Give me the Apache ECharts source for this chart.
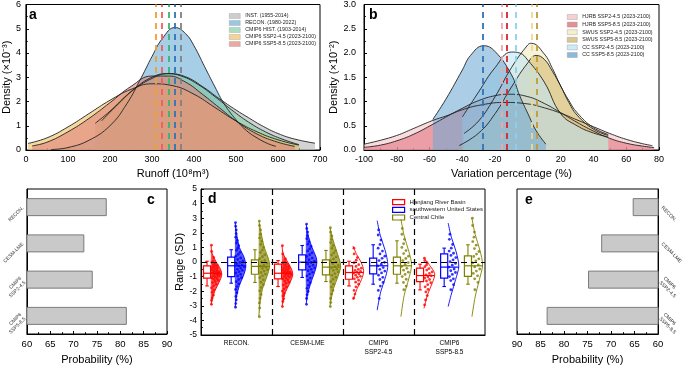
<!DOCTYPE html>
<html>
<head>
<meta charset="utf-8">
<script src="https://cdn.jsdelivr.net/npm/echarts@6/dist/echarts.min.js"></script>
<style>html,body{margin:0;padding:0;background:#fff}#main{width:685px;height:366px}</style>
</head>
<body>
<div id="main"></div>
<script>
var FONT = '"Liberation Sans", Arial, sans-serif';

// ---- panel a: runoff density (x10^-3) ----
var runoffINST = [[165,1.1],[200,1.6],[250,2.4],[300,2.95],[340,3.15],[380,3.02],[420,2.62],[460,2.12],[500,1.65],[530,1.33],[560,1.02],[600,0.68],[640,0.45],[688,0.28]];
var runoffRECON = [[60,0.02],[100,0.1],[150,0.4],[200,1.0],[240,1.9],[275,3.0],[300,3.85],[325,4.6],[355,5.05],[380,4.8],[400,4.3],[425,3.45],[450,2.6],[472,1.9],[500,1.25],[525,0.8],[550,0.5],[575,0.27],[595,0.15]];
var runoffHIST = [[180,1.2],[220,1.9],[260,2.55],[300,3.0],[335,3.15],[370,3.05],[410,2.7],[450,2.2],[490,1.65],[530,1.15],[570,0.75],[610,0.45],[650,0.22]];
var runoffSSP245 = [[5,0.27],[50,0.5],[100,0.95],[150,1.5],[200,2.05],[250,2.5],[300,2.73],[350,2.65],[400,2.3],[450,1.75],[500,1.2],[550,0.75],[600,0.42],[650,0.2]];
var runoffSSP585 = [[15,0.17],[50,0.32],[100,0.75],[150,1.3],[200,1.95],[250,2.62],[300,3.05],[340,3.05],[380,2.8],[420,2.3],[460,1.75],[500,1.2],[550,0.66],[600,0.32],[640,0.15]];
var aNames = ['INST. (1955-2014)', 'RECON. (1980-2022)', 'CMIP6 HIST. (1903-2014)', 'CMIP6 SSP2-4.5 (2023-2100)', 'CMIP6 SSP5-8.5 (2023-2100)'];
var aMeans = [369, 355, 340, 310, 323];

// ---- panel b: variation percentage density (x10^-2) ----
var varHJRB245 = [[-100,0.12],[-90,0.2],[-80,0.3],[-70,0.44],[-58,0.61],[-50,0.7],[-40,0.83],[-30,0.92],[-15,0.98],[0,0.95],[10,0.87],[20,0.76],[30,0.62],[40,0.48],[50,0.34],[60,0.22],[70,0.13],[76,0.09]];
var varHJRB585 = [[-100,0.055],[-90,0.1],[-80,0.19],[-70,0.32],[-58,0.53],[-50,0.68],[-40,0.86],[-30,1.02],[-20,1.12],[-12,1.15],[0,1.1],[10,0.96],[20,0.77],[30,0.57],[40,0.39],[50,0.24],[60,0.14],[70,0.08],[77,0.05]];
var varSWUS245 = [[-39,0.34],[-30,0.6],[-20,1.1],[-10,1.7],[0,2.17],[2,2.2],[10,1.98],[15,1.68],[20,1.32],[25,1.02],[30,0.77],[40,0.46],[49,0.32]];
var varSWUS585 = [[-42,0.09],[-30,0.35],[-20,0.75],[-10,1.3],[0,1.8],[5,1.95],[10,1.87],[15,1.62],[20,1.32],[25,0.98],[30,0.72],[40,0.43],[49,0.3]];
var varCC245 = [[-40,0.68],[-30,1.2],[-20,1.7],[-10,2.02],[-5,2.0],[0,1.85],[10,1.4],[20,0.75],[30,0.5],[40,0.35],[49,0.27]];
var varCC585 = [[-58,0.63],[-50,1.05],[-40,1.65],[-35,1.95],[-27,2.15],[-20,2.03],[-10,1.55],[-5,1.12],[0,0.75],[5,0.4],[11,0.12]];
var bNames = ['HJRB SSP2-4.5 (2023-2100)', 'HJRB SSP5-8.5 (2023-2100)', 'SWUS SSP2-4.5 (2023-2100)', 'SWUS SSP5-8.5 (2023-2100)', 'CC SSP2-4.5 (2023-2100)', 'CC SSP5-8.5 (2023-2100)'];
var bMeans = [-16.2, -12.6, 2.3, 5.7, -7.3, -27.6];

// ---- panels c / e: probability ----
var probCats = ['RECON.', 'CESM-LME', 'CMIP6\nSSP2-4.5', 'CMIP6\nSSP5-8.5'];
var probC = [77.1, 72.3, 74.1, 81.4];
var probE = [65.4, 72.1, 74.9, 83.7];

// ---- panel d: range (SD) ----
var dCats = ['RECON.', 'CESM-LME', 'CMIP6\nSSP2-4.5', 'CMIP6\nSSP5-8.5'];
var dRegions = ['Hanjiang River Basin', 'southwestern United States', 'Central Chile'];
// [lower whisker, Q1, median, Q3, upper whisker]
var boxHJRB = [[-1.64,-1.11,-0.77,-0.26,0.05],[-1.68,-1.16,-0.77,-0.15,0.1],[-1.64,-1.18,-0.72,-0.26,0.05],[-1.91,-1.34,-0.93,-0.42,-0.15]];
var boxSWUS = [[-1.45,-1.0,-0.26,0.33,0.84],[-1.06,-0.54,-0.01,0.49,1.13],[-1.52,-0.81,-0.26,0.26,1.18],[-1.68,-1.11,-0.35,0.56,0.95]];
var boxCC = [[-1.4,-0.84,-0.3,0.15,0.84],[-1.34,-0.88,-0.35,0.15,0.79],[-1.45,-0.84,-0.26,0.33,1.45],[-1.52,-0.99,-0.26,0.42,1.18]];
var ptsHJRB = [
  [1.15,0.72,0.31,0.08,-0.02,-0.11,-0.18,-0.24,-0.29,-0.36,-0.41,-0.47,-0.52,-0.58,-0.61,-0.66,-0.7,-0.74,-0.77,-0.81,-0.84,-0.88,-0.93,-0.97,-1.02,-1.08,-1.13,-1.19,-1.26,-1.33,-1.41,-1.52,-1.63,-1.77,-1.92,-2.08,-2.27,-2.46,-2.63,-2.9],
  [1.12,0.55,0.21,0.03,-0.07,-0.14,-0.2,-0.27,-0.33,-0.38,-0.44,-0.5,-0.55,-0.6,-0.64,-0.69,-0.73,-0.77,-0.8,-0.85,-0.89,-0.94,-0.99,-1.04,-1.1,-1.16,-1.22,-1.3,-1.38,-1.47,-1.58,-1.7,-1.84,-1.99,-2.15,-2.33,-2.52,-2.7,-3.05],
  [0.95,0.55,0.3,0.12,-0.05,-0.18,-0.3,-0.42,-0.5,-0.58,-0.65,-0.7,-0.75,-0.82,-0.9,-0.98,-1.05,-1.15,-1.25,-1.38,-1.52,-1.7,-1.95,-2.2,-2.48],
  [0.26,0.1,-0.05,-0.2,-0.32,-0.45,-0.55,-0.68,-0.78,-0.88,-0.95,-1.02,-1.1,-1.2,-1.3,-1.42,-1.55,-1.7,-1.88,-2.05,-2.3,-2.6,-2.94]
];
var ptsSWUS = [
  [2.7,2.45,2.2,1.95,1.7,1.48,1.3,1.12,0.95,0.8,0.66,0.52,0.4,0.28,0.17,0.07,-0.03,-0.12,-0.2,-0.27,-0.35,-0.42,-0.5,-0.58,-0.66,-0.75,-0.85,-0.96,-1.08,-1.2,-1.34,-1.5,-1.68,-1.88,-2.1,-2.35,-2.6,-2.85,-3.1],
  [2.6,2.3,2.05,1.8,1.6,1.4,1.22,1.06,0.9,0.76,0.63,0.5,0.38,0.27,0.16,0.06,-0.04,-0.13,-0.22,-0.31,-0.4,-0.5,-0.6,-0.71,-0.83,-0.96,-1.1,-1.25,-1.42,-1.6,-1.8,-2.02,-2.25,-2.5,-2.9],
  [2.2,1.85,1.5,1.2,0.95,0.75,0.55,0.4,0.25,0.1,-0.02,-0.15,-0.26,-0.38,-0.5,-0.62,-0.75,-0.9,-1.05,-1.2,-1.4,-1.65,-1.95,-2.5],
  [1.9,1.55,1.2,0.95,0.75,0.6,0.45,0.3,0.15,0.02,-0.1,-0.22,-0.35,-0.48,-0.6,-0.72,-0.85,-1.0,-1.15,-1.27,-1.55,-1.9]
];
var ptsCC = [
  [2.8,2.5,2.2,1.9,1.65,1.42,1.2,1.0,0.82,0.65,0.5,0.36,0.23,0.11,0.0,-0.1,-0.2,-0.28,-0.36,-0.44,-0.53,-0.62,-0.72,-0.83,-0.95,-1.08,-1.22,-1.38,-1.55,-1.75,-1.98,-2.22,-2.5,-2.8,-3.15,-3.75],
  [2.35,2.05,1.78,1.55,1.33,1.13,0.95,0.78,0.62,0.48,0.35,0.22,0.1,-0.01,-0.12,-0.22,-0.31,-0.4,-0.49,-0.58,-0.68,-0.79,-0.91,-1.04,-1.18,-1.34,-1.52,-1.72,-1.95,-2.2,-2.5,-2.78,-3.05],
  [2.3,1.9,1.55,1.25,1.0,0.78,0.58,0.4,0.24,0.1,-0.04,-0.17,-0.3,-0.43,-0.56,-0.7,-0.85,-1.0,-1.18,-1.4,-1.65,-1.9],
  [3.0,2.5,2.05,1.7,1.4,1.15,0.92,0.72,0.54,0.38,0.22,0.08,-0.06,-0.2,-0.34,-0.48,-0.62,-0.78,-0.95,-1.15,-1.4,-1.9]
];
// half-violin profiles: [y, relative density]
var violinHJRB = [
  [[1.15,0],[0.6,0.1],[0.05,0.45],[-0.5,0.9],[-0.9,1],[-1.4,0.75],[-2.0,0.35],[-2.6,0.1],[-2.95,0]],
  [[1.15,0],[0.6,0.1],[0.1,0.45],[-0.5,0.9],[-0.9,1],[-1.5,0.7],[-2.1,0.3],[-2.7,0.1],[-3.05,0]],
  [[1.1,0],[0.5,0.35],[0,0.75],[-0.6,1],[-1.2,0.8],[-1.8,0.4],[-2.6,0]],
  [[0.26,0],[-0.2,0.5],[-0.8,1],[-1.4,0.8],[-2.2,0.35],[-3.17,0]]
];
var violinSWUS = [
  [[2.7,0],[2.0,0.12],[1.0,0.4],[0.3,0.85],[-0.3,1],[-0.9,0.8],[-1.6,0.4],[-2.4,0.12],[-3.1,0]],
  [[2.6,0],[1.8,0.2],[1.0,0.55],[0.3,0.95],[-0.1,1],[-0.7,0.8],[-1.5,0.4],[-2.3,0.12],[-2.9,0]],
  [[2.83,0],[1.8,0.3],[0.8,0.75],[-0.2,1],[-1.0,0.8],[-2.0,0.35],[-3.3,0]],
  [[2.67,0],[1.7,0.3],[0.7,0.75],[-0.3,1],[-1.2,0.7],[-2.2,0.3],[-3.05,0]]
];
var violinCC = [
  [[2.8,0],[2.0,0.2],[1.0,0.5],[0.2,0.9],[-0.3,1],[-1.0,0.75],[-1.8,0.35],[-2.8,0.1],[-3.75,0]],
  [[2.35,0],[1.6,0.25],[0.8,0.6],[0,0.95],[-0.4,1],[-1.0,0.75],[-1.8,0.35],[-2.6,0.1],[-3.05,0]],
  [[2.94,0],[1.8,0.3],[0.7,0.75],[-0.2,1],[-1.1,0.75],[-2.3,0.3],[-3.74,0]],
  [[3.0,0],[1.9,0.3],[0.8,0.75],[-0.2,1],[-1.2,0.7],[-2.4,0.3],[-3.74,0]]
];

var aFill = ['#b8b8b8', '#6fb0d8', '#86d0aa', '#eec266', '#e2857c'];
var aDash = ['#808080', '#2f74b5', '#3cb371', '#f0a030', '#f25c5c'];
var bFill = ['#f5c4c6', '#e0707c', '#f2ebbd', '#d2b86e', '#bfe5f5', '#6ea9d2'];
var bDash = ['#f4a6a8', '#d8252f', '#e6dc96', '#c49a35', '#86d3f0', '#2f74b5'];
var dColors = ['#ff0000', '#0000ff', '#808000'];
var dOffsets = [0.085, 0.425, 0.76];
var BOX_HALF = 0.05, VIOLIN_W = 0.15;

function curveSeries(name, data, fill, xi, op) {
  return {
    name: name, type: 'line', xAxisIndex: xi, yAxisIndex: xi, data: data,
    smooth: 0.45, showSymbol: false, symbol: 'none', silent: true,
    lineStyle: { color: '#222', width: 0.9 },
    itemStyle: { color: fill },
    areaStyle: { color: fill, opacity: op }
  };
}

function meanSeries(xi, means, colors) {
  return {
    type: 'line', xAxisIndex: xi, yAxisIndex: xi, data: [], silent: true, z: 5,
    markLine: {
      symbol: ['none', 'none'], silent: true, label: { show: false }, animation: false,
      data: means.map(function (m, i) {
        return { xAxis: m, lineStyle: { color: colors[i], type: [6, 5], width: 1.8 } };
      })
    }
  };
}

function violinWidth(prof, y) {
  for (var k = 0; k < prof.length - 1; k++) {
    var a = prof[k], b = prof[k + 1];
    if (y <= a[0] && y >= b[0]) {
      return a[1] + (b[1] - a[1]) * (a[0] - y) / (a[0] - b[0]);
    }
  }
  return 0;
}

var dBoxes = [boxHJRB, boxSWUS, boxCC];
var dPts = [ptsHJRB, ptsSWUS, ptsCC];
var dViolins = [violinHJRB, violinSWUS, violinCC];

function boxRender(r) {
  return function (params, api) {
    var i = params.dataIndex;
    var b = dBoxes[r][i], prof = dViolins[r][i], col = dColors[r];
    var cx = i + dOffsets[r], base = cx + BOX_HALF + 0.006;
    var children = [];
    var vpts = prof.map(function (p) { return api.coord([base + p[1] * VIOLIN_W, p[0]]); });
    if (i < 2) {
      children.push({ type: 'polygon', shape: { points: vpts, smooth: 0.3 }, style: { fill: col, opacity: 0.65 } });
    }
    children.push({ type: 'polyline', shape: { points: vpts, smooth: 0.3 }, style: { stroke: col, fill: 'none', lineWidth: 0.9 } });
    var tl = api.coord([cx - BOX_HALF, b[3]]), br = api.coord([cx + BOX_HALF, b[1]]);
    children.push({ type: 'rect', shape: { x: tl[0], y: tl[1], width: br[0] - tl[0], height: br[1] - tl[1] }, style: { fill: 'none', stroke: col, lineWidth: 1.2 } });
    var top = api.coord([cx, b[4]]), bot = api.coord([cx, b[0]]);
    var c = api.coord([cx, 0])[0];
    var capL = api.coord([cx - BOX_HALF * 0.5, 0])[0], capR = api.coord([cx + BOX_HALF * 0.5, 0])[0];
    children.push({ type: 'line', shape: { x1: c, y1: tl[1], x2: c, y2: top[1] }, style: { stroke: col, lineWidth: 1.1 } });
    children.push({ type: 'line', shape: { x1: c, y1: br[1], x2: c, y2: bot[1] }, style: { stroke: col, lineWidth: 1.1 } });
    children.push({ type: 'line', shape: { x1: capL, y1: top[1], x2: capR, y2: top[1] }, style: { stroke: col, lineWidth: 1.1 } });
    children.push({ type: 'line', shape: { x1: capL, y1: bot[1], x2: capR, y2: bot[1] }, style: { stroke: col, lineWidth: 1.1 } });
    var m1 = api.coord([cx - BOX_HALF, b[2]]), m2 = api.coord([base + VIOLIN_W, b[2]]);
    children.push({ type: 'line', shape: { x1: m1[0], y1: m1[1], x2: m2[0], y2: m2[1] }, style: { stroke: col, lineWidth: 1.2 } });
    return { type: 'group', children: children };
  };
}

function scatterData(r) {
  var out = [];
  for (var i = 0; i < 4; i++) {
    var base = i + dOffsets[r] + BOX_HALF + 0.012;
    var prof = dViolins[r][i];
    dPts[r][i].forEach(function (y, k) {
      var w = violinWidth(prof, y) * VIOLIN_W;
      var f = ((k + 1) * 0.618034) % 1;
      out.push([base + f * w * 0.85, y]);
    });
  }
  return out;
}

function axisBase(gi) {
  return {
    gridIndex: gi,
    axisLine: { show: true, onZero: false, lineStyle: { color: '#000', width: 1 } },
    axisTick: { show: true, inside: true, length: 3, lineStyle: { color: '#000' } },
    splitLine: { show: false },
    nameTextStyle: { fontSize: 11, color: '#000', fontFamily: FONT },
    nameLocation: 'middle'
  };
}
function valAxis(gi, min, max, interval, labelSize, margin) {
  var a = axisBase(gi);
  a.type = 'value'; a.min = min; a.max = max; a.interval = interval;
  a.minorTick = { show: true, splitNumber: 2, length: 1.8, lineStyle: { color: '#000' } };
  a.axisLabel = { color: '#000', fontSize: labelSize, fontFamily: FONT, margin: margin };
  return a;
}

var xa = valAxis(0, 0, 700, 100, 9, 5);
xa.name = 'Runoff (10⁸m³)'; xa.nameGap = 18;
var ya = valAxis(0, 0, 6, 1, 9, 5);
ya.name = 'Density (×10⁻³)'; ya.nameGap = 12;

var xb = valAxis(1, -100, 80, 20, 9, 5);
xb.name = 'Variation percentage (%)'; xb.nameGap = 18;
var yb = valAxis(1, 0, 3, 0.5, 9, 8);
yb.name = 'Density (×10⁻²)'; yb.nameGap = 23;
yb.axisLabel.formatter = function (v) { return v.toFixed(1); };

var xc = valAxis(2, 60, 90, 5, 9.5, 5);
xc.name = 'Probability (%)'; xc.nameGap = 20;
var yc = axisBase(2);
yc.type = 'category'; yc.data = probCats; yc.inverse = true;
yc.axisTick = { show: true, inside: true, alignWithLabel: true, length: 3, lineStyle: { color: '#000' } };
yc.axisLabel = { color: '#333', fontSize: 5, fontFamily: FONT, rotate: 45, margin: 4, lineHeight: 6 };

var xdCat = axisBase(3);
xdCat.type = 'category'; xdCat.data = dCats; xdCat.boundaryGap = true;
xdCat.axisTick = { show: false };
xdCat.axisLabel = { color: '#000', fontSize: 6.5, fontFamily: FONT, margin: 4, lineHeight: 9 };
var xdVal = { type: 'value', gridIndex: 3, min: 0, max: 4, show: false };
var yd = valAxis(3, -5, 5, 1, 8.5, 4);
yd.name = 'Range (SD)'; yd.nameGap = 15;

var xe = valAxis(4, 60, 90, 5, 9.5, 5);
xe.inverse = true; xe.name = 'Probability (%)'; xe.nameGap = 20;
var ye = axisBase(4);
ye.type = 'category'; ye.data = probCats; ye.inverse = true; ye.position = 'right';
ye.axisTick = { show: true, inside: true, alignWithLabel: true, length: 3, lineStyle: { color: '#000' } };
ye.axisLabel = { color: '#333', fontSize: 5, fontFamily: FONT, rotate: -45, margin: 4, lineHeight: 6 };

var series = [];
[runoffINST, runoffRECON, runoffHIST, runoffSSP245, runoffSSP585].forEach(function (d, i) {
  series.push(curveSeries(aNames[i], d, aFill[i], 0, 0.62));
});
series.push(meanSeries(0, aMeans, aDash));
[varHJRB245, varHJRB585, varSWUS245, varSWUS585, varCC245, varCC585].forEach(function (d, i) {
  series.push(curveSeries(bNames[i], d, bFill[i], 1, 0.58));
});
series.push(meanSeries(1, bMeans, bDash));

function barSeries(xi, yi, vals) {
  return {
    type: 'bar', xAxisIndex: xi, yAxisIndex: yi, data: vals, barWidth: 18, silent: true,
    itemStyle: { color: '#c9c9c9', borderColor: '#7a7a7a', borderWidth: 1 }
  };
}
series.push(barSeries(2, 2, probC));
series.push(barSeries(5, 4, probE));

series.push({
  type: 'line', xAxisIndex: 4, yAxisIndex: 3, data: [], silent: true,
  markLine: {
    symbol: ['none', 'none'], silent: true, label: { show: false }, animation: false,
    lineStyle: { color: '#000', type: [6, 4], width: 1.2 },
    data: [{ xAxis: 1 }, { xAxis: 2 }, { xAxis: 3 }, { yAxis: 0 }]
  }
});
dRegions.forEach(function (name, r) {
  series.push({
    type: 'scatter', xAxisIndex: 4, yAxisIndex: 3, data: scatterData(r), silent: true,
    symbol: 'circle', symbolSize: 2.8, itemStyle: { color: dColors[r] }, z: 3
  });
  series.push({
    name: name, type: 'custom', xAxisIndex: 4, yAxisIndex: 3, silent: true, z: 4,
    data: [[0, 0], [1, 0], [2, 0], [3, 0]], encode: { x: 0, y: 1 },
    itemStyle: { color: '#fff', borderColor: dColors[r] },
    renderItem: boxRender(r)
  });
});

function letter(t, x, y) {
  return { type: 'text', left: x, top: y, style: { text: t, font: 'bold 14px ' + FONT, fill: '#000' } };
}

var legendText = { fontSize: 5.3, color: '#222', fontFamily: FONT, lineHeight: 6 };
var option = {
  animation: false,
  backgroundColor: '#fff',
  grid: [
    { left: 25, top: 3, width: 295, height: 147, show: true, borderColor: '#000', borderWidth: 1, backgroundColor: 'transparent' },
    { left: 364, top: 3, width: 295, height: 147, show: true, borderColor: '#000', borderWidth: 1, backgroundColor: 'transparent' },
    { left: 25, top: 189, width: 142, height: 146, show: true, borderColor: '#000', borderWidth: 1, backgroundColor: 'transparent' },
    { left: 201, top: 189, width: 284, height: 146, show: true, borderColor: '#000', borderWidth: 1, backgroundColor: 'transparent' },
    { left: 517, top: 189, width: 142, height: 146, show: true, borderColor: '#000', borderWidth: 1, backgroundColor: 'transparent' }
  ],
  xAxis: [xa, xb, xc, xdCat, xdVal, xe],
  yAxis: [ya, yb, yc, yd, ye],
  legend: [
    {
      left: 224, top: 8, orient: 'vertical', icon: 'rect', itemWidth: 11, itemHeight: 5, itemGap: 1,
      selectedMode: false, textStyle: legendText,
      data: aNames.map(function (n, i) { return { name: n, itemStyle: { color: aFill[i], opacity: 0.7, borderColor: '#999', borderWidth: 0.5 } }; })
    },
    {
      left: 562, top: 9, orient: 'vertical', icon: 'rect', itemWidth: 10, itemHeight: 5, itemGap: 1.6,
      selectedMode: false, textStyle: legendText,
      data: bNames.map(function (n, i) { return { name: n, itemStyle: { color: bFill[i], opacity: 0.8, borderColor: '#999', borderWidth: 0.5 } }; })
    },
    {
      left: 387, top: 194, orient: 'vertical', icon: 'rect', itemWidth: 12, itemHeight: 5, itemGap: 1.5,
      selectedMode: false, textStyle: { fontSize: 6, color: '#222', fontFamily: FONT, lineHeight: 6 },
      data: dRegions.map(function (n, r) { return { name: n, itemStyle: { color: '#fff', borderColor: dColors[r], borderWidth: 1.2 } }; })
    }
  ],
  graphic: [letter('a', 29, 8), letter('b', 369, 8), letter('c', 147, 193), letter('d', 208, 192), letter('e', 525, 193)],
  series: series
};

var myChart = echarts.init(document.getElementById('main'));
myChart.setOption(option);
</script>
</body>
</html>
